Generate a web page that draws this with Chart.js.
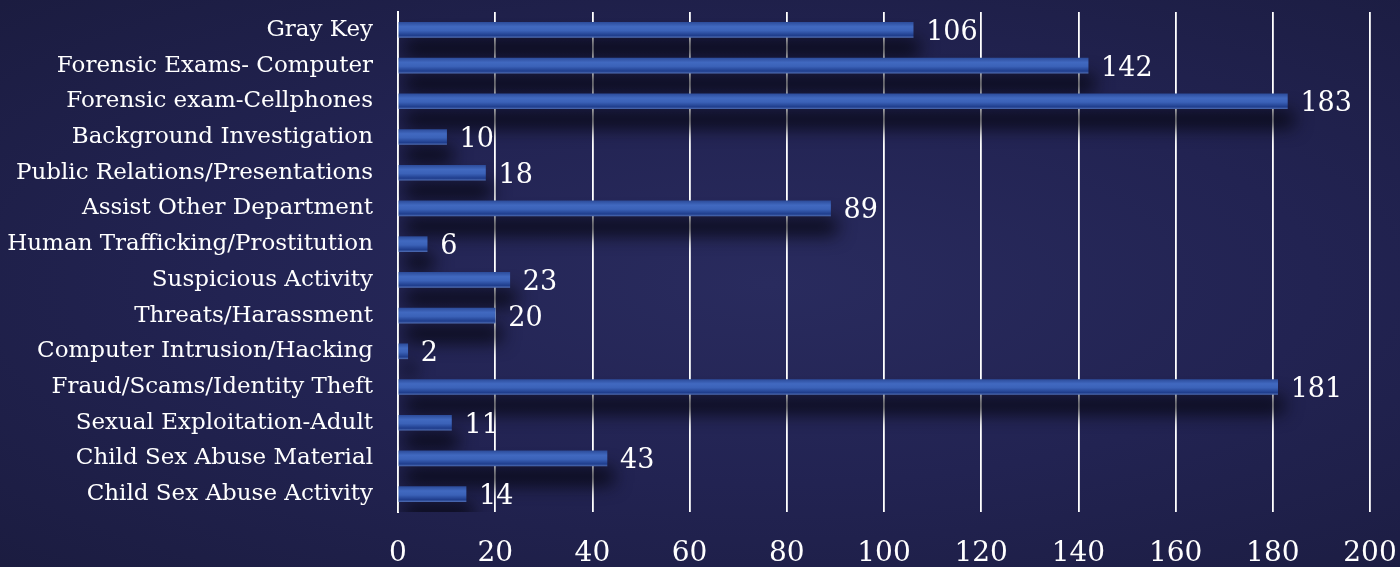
<!DOCTYPE html>
<html>
<head>
<meta charset="utf-8">
<script src="https://cdn.jsdelivr.net/npm/chart.js@4"></script>
<style>
  html, body { margin: 0; padding: 0; }
  body {
    width: 1400px; height: 567px; overflow: hidden;
    background: radial-gradient(ellipse at 55% 50%, #292b5e 0%, #222352 50%, #1b1c40 100%);
  }
  #wrap { position: relative; width: 1400px; height: 567px; }
</style>
</head>
<body>
<div id="wrap"><canvas id="casesChart" width="1400" height="567"></canvas></div>
<script>
// categories top to bottom
const categories = [
    'Gray Key',
    'Forensic Exams- Computer',
    'Forensic exam-Cellphones',
    'Background Investigation',
    'Public Relations/Presentations',
    'Assist Other Department',
    'Human Trafficking/Prostitution',
    'Suspicious Activity',
    'Threats/Harassment',
    'Computer Intrusion/Hacking',
    'Fraud/Scams/Identity Theft',
    'Sexual Exploitation-Adult',
    'Child Sex Abuse Material',
    'Child Sex Abuse Activity'
];
const caseCounts = [106, 142, 183, 10, 18, 89, 6, 23, 20, 2, 181, 11, 43, 14];
const xTicks = [0, 20, 40, 60, 80, 100, 120, 140, 160, 180, 200];

const FONT = "'DejaVu Serif', serif";

// shadow under each bar, like the office 3D look
const barShadow = {
    id: 'barShadow',
    beforeDatasetDraw(chart) {
        const ctx = chart.ctx;
        ctx.save();
        ctx.shadowColor = 'rgba(5, 5, 15, 0.95)';
        ctx.shadowBlur = 18;
        ctx.shadowOffsetX = 6;
        ctx.shadowOffsetY = 18;
    },
    afterDatasetDraw(chart) {
        chart.ctx.restore();
    }
};

// numbers at bar ends
const valueLabels = {
    id: 'valueLabels',
    afterDatasetsDraw(chart) {
        const ctx = chart.ctx;
        const meta = chart.getDatasetMeta(0);
        ctx.save();
        ctx.fillStyle = '#ffffff';
        ctx.font = '27px ' + FONT;
        ctx.textAlign = 'left';
        ctx.textBaseline = 'middle';
        meta.data.forEach((bar, i) => {
            ctx.fillText(String(caseCounts[i]), bar.x + 13, bar.y + 3);
        });
        ctx.restore();
    }
};

function barFill(context) {
    const chart = context.chart;
    const yScale = chart.scales.y;
    if (!chart.chartArea || !yScale) return '#3d62b6';
    const y = yScale.getPixelForValue(context.dataIndex);
    const g = chart.ctx.createLinearGradient(0, y - 8, 0, y + 8);
    g.addColorStop(0, '#2b4a98');
    g.addColorStop(0.3, '#4169c0');
    g.addColorStop(0.55, '#3b62b8');
    g.addColorStop(0.85, '#1f3d8c');
    g.addColorStop(1, '#5573b8');
    return g;
}

const ctx = document.getElementById('casesChart').getContext('2d');
new Chart(ctx, {
    type: 'bar',
    data: {
        labels: categories,
        datasets: [{
            data: caseCounts,
            backgroundColor: barFill,
            borderWidth: 0,
            barThickness: 15
        }]
    },
    options: {
        indexAxis: 'y',
        responsive: false,
        animation: false,
        devicePixelRatio: 1,
        layout: { padding: { top: 12, right: 30, left: 0, bottom: 0 } },
        plugins: {
            legend: { display: false },
            tooltip: { enabled: false }
        },
        scales: {
            x: {
                min: 0,
                max: 200,
                afterBuildTicks(axis) {
                    axis.ticks = xTicks.map(v => ({ value: v }));
                },
                afterFit(axis) {
                    axis.height = 55;
                    axis.paddingLeft = 0;
                    axis.paddingRight = 0;
                },
                grid: { color: '#ffffff', lineWidth: 1.8, drawTicks: false },
                border: { display: false },
                ticks: {
                    color: '#ffffff',
                    padding: 25,
                    font: { family: FONT, size: 28 }
                }
            },
            y: {
                afterFit(axis) {
                    axis.width = 398;
                    axis.paddingTop = 0;
                    axis.paddingBottom = 0;
                },
                grid: { display: false, drawTicks: false },
                border: { display: true, color: '#ffffff', width: 2 },
                ticks: {
                    color: '#ffffff',
                    padding: 25,
                    autoSkip: false,
                    font: { family: FONT, size: 23 }
                }
            }
        }
    },
    plugins: [barShadow, valueLabels]
});
</script>
</body>
</html>
